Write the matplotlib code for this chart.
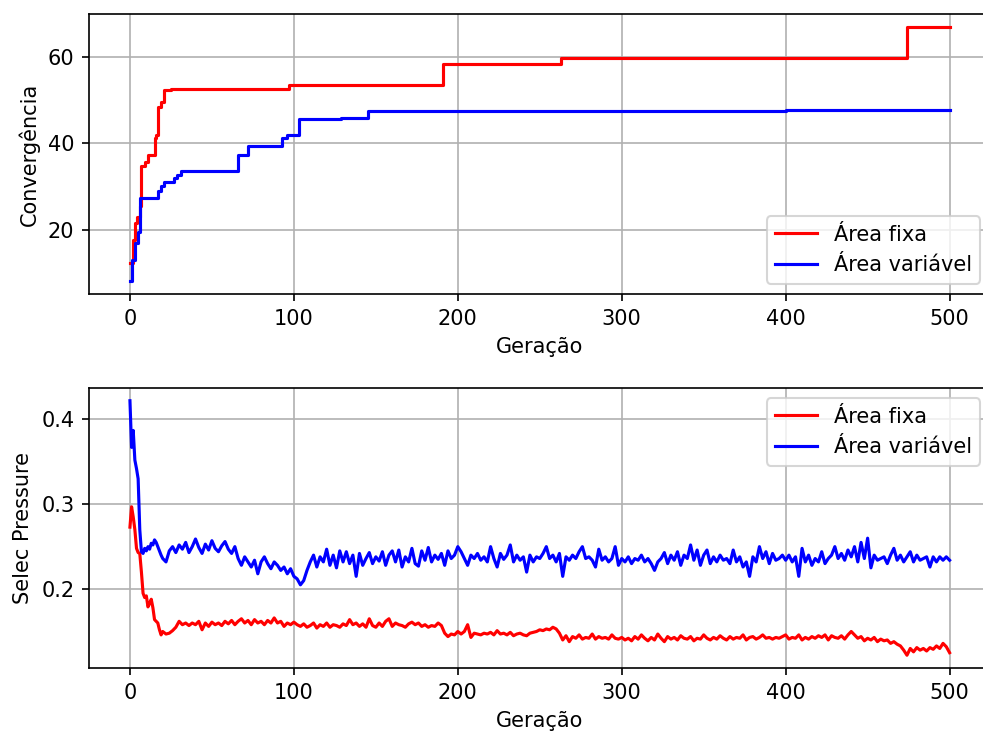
import numpy as np
import matplotlib
matplotlib.use("Agg")
import matplotlib.pyplot as plt

# convergence: generation where the best value changes, and the new value
red_conv_gen = [0, 2, 3, 4, 6, 7, 9, 11, 15, 16, 17, 19, 21, 25, 97, 191, 263, 474, 500]
red_conv_val = [12.4, 17.7, 21.6, 23.0, 25.4, 34.7, 35.8, 37.2, 41.2, 42.0, 48.5, 49.5, 52.3, 52.6, 53.5, 58.4, 59.7, 67.0, 67.0]
blue_conv_gen = [0, 1, 3, 5, 6, 17, 19, 21, 27, 29, 31, 66, 72, 82, 93, 96, 103, 129, 145, 400, 500]
blue_conv_val = [8.1, 12.9, 17.0, 19.5, 27.4, 28.9, 30.2, 31.0, 32.0, 32.6, 33.7, 37.4, 39.3, 39.5, 41.2, 42.0, 45.6, 45.8, 47.6, 47.8, 47.8]

# selection pressure: every generation for 0-19, then every 2nd generation
sel_gen = list(range(0, 20)) + list(range(20, 501, 2))

red_sel = [
    0.273, 0.297, 0.285, 0.270, 0.248, 0.243, 0.242, 0.220, 0.195, 0.190,
    0.192, 0.179, 0.183, 0.188, 0.178, 0.164, 0.162, 0.160, 0.152, 0.146,
    # 20-100
    0.150, 0.147, 0.148, 0.151, 0.155, 0.162, 0.158, 0.160, 0.157, 0.160,
    0.158, 0.162, 0.152, 0.160, 0.156, 0.161, 0.158, 0.160, 0.157, 0.162,
    0.159, 0.163, 0.158, 0.162, 0.165, 0.160, 0.163, 0.158, 0.164, 0.160,
    0.162, 0.158, 0.163, 0.160, 0.166, 0.160, 0.162, 0.156, 0.160, 0.158,
    0.161,
    # 102-200
    0.158, 0.156, 0.159, 0.155, 0.157, 0.160, 0.154, 0.158, 0.156, 0.160,
    0.155, 0.158, 0.157, 0.155, 0.159, 0.157, 0.164, 0.158, 0.160, 0.156,
    0.159, 0.155, 0.165, 0.157, 0.155, 0.160, 0.156, 0.162, 0.165, 0.156,
    0.160, 0.158, 0.157, 0.155, 0.159, 0.161, 0.158, 0.160, 0.156, 0.158,
    0.155, 0.157, 0.156, 0.160, 0.157, 0.148, 0.144, 0.147, 0.146, 0.150,
    # 202-300
    0.147, 0.150, 0.158, 0.143, 0.148, 0.147, 0.146, 0.148, 0.147, 0.149,
    0.146, 0.151, 0.147, 0.148, 0.146, 0.149, 0.145, 0.147, 0.148, 0.146,
    0.145, 0.148, 0.149, 0.150, 0.152, 0.151, 0.153, 0.152, 0.155, 0.153,
    0.148, 0.140, 0.145, 0.138, 0.144, 0.142, 0.146, 0.141, 0.143, 0.142,
    0.147, 0.141, 0.144, 0.142, 0.143, 0.141, 0.146, 0.142, 0.141, 0.143,
    # 302-400
    0.140, 0.142, 0.139, 0.144, 0.141, 0.146, 0.142, 0.139, 0.143, 0.140,
    0.147, 0.142, 0.138, 0.144, 0.141, 0.143, 0.140, 0.145, 0.142, 0.141,
    0.144, 0.139, 0.142, 0.141, 0.146, 0.142, 0.140, 0.143, 0.141, 0.145,
    0.142, 0.140, 0.144, 0.141, 0.143, 0.142, 0.146, 0.140, 0.143, 0.144,
    0.141, 0.143, 0.146, 0.142, 0.143, 0.141, 0.143, 0.142, 0.144, 0.146,
    # 402-500
    0.141, 0.143, 0.142, 0.146, 0.140, 0.143, 0.141, 0.144, 0.142, 0.145,
    0.143, 0.146, 0.140, 0.145, 0.143, 0.142, 0.145, 0.141, 0.146, 0.150,
    0.146, 0.142, 0.144, 0.139, 0.142, 0.140, 0.143, 0.138, 0.141, 0.139,
    0.140, 0.136, 0.138, 0.135, 0.133, 0.128, 0.122, 0.130, 0.126, 0.131,
    0.128, 0.130, 0.127, 0.131, 0.129, 0.133, 0.130, 0.136, 0.132, 0.125,
]

blue_sel = [
    0.422, 0.367, 0.387, 0.352, 0.342, 0.330, 0.270, 0.244, 0.242, 0.248,
    0.245, 0.250, 0.247, 0.254, 0.252, 0.258, 0.255, 0.250, 0.245, 0.240,
    # 20-64
    0.236, 0.232, 0.245, 0.250, 0.243, 0.252, 0.247, 0.255, 0.243, 0.250,
    0.259, 0.249, 0.242, 0.253, 0.246, 0.257, 0.248, 0.244, 0.251, 0.256,
    0.247, 0.242, 0.250,
    # 66-100
    0.236, 0.228, 0.238, 0.232, 0.226, 0.234, 0.218, 0.232, 0.238, 0.230,
    0.224, 0.232, 0.228, 0.222, 0.226, 0.218, 0.224, 0.215,
    # 102-200
    0.212, 0.205, 0.210, 0.222, 0.232, 0.240, 0.226, 0.238, 0.232, 0.247,
    0.228, 0.240, 0.225, 0.245, 0.232, 0.244, 0.230, 0.240, 0.215, 0.242,
    0.228, 0.236, 0.243, 0.230, 0.238, 0.233, 0.244, 0.228, 0.240, 0.245,
    0.232, 0.246, 0.226, 0.238, 0.232, 0.248, 0.230, 0.227, 0.245, 0.234,
    0.249, 0.232, 0.240, 0.235, 0.242, 0.228, 0.245, 0.236, 0.240, 0.250,
    # 202-300
    0.244, 0.236, 0.228, 0.240, 0.236, 0.242, 0.234, 0.238, 0.232, 0.250,
    0.236, 0.226, 0.242, 0.235, 0.240, 0.252, 0.232, 0.240, 0.234, 0.238,
    0.220, 0.240, 0.232, 0.238, 0.236, 0.242, 0.250, 0.236, 0.240, 0.232,
    0.242, 0.215, 0.238, 0.234, 0.240, 0.236, 0.244, 0.250, 0.236, 0.238,
    0.234, 0.226, 0.247, 0.234, 0.238, 0.232, 0.236, 0.250, 0.228, 0.236,
    # 302-400
    0.232, 0.238, 0.230, 0.236, 0.234, 0.240, 0.232, 0.236, 0.230, 0.222,
    0.232, 0.236, 0.243, 0.230, 0.240, 0.234, 0.244, 0.228, 0.240, 0.236,
    0.252, 0.234, 0.246, 0.228, 0.240, 0.246, 0.230, 0.238, 0.232, 0.240,
    0.234, 0.236, 0.230, 0.246, 0.232, 0.238, 0.226, 0.232, 0.215, 0.238,
    0.232, 0.250, 0.236, 0.244, 0.230, 0.242, 0.234, 0.236, 0.240, 0.234,
    # 402-500
    0.240, 0.232, 0.238, 0.215, 0.248, 0.232, 0.240, 0.228, 0.236, 0.232,
    0.244, 0.230, 0.236, 0.240, 0.250, 0.236, 0.242, 0.234, 0.246, 0.238,
    0.250, 0.232, 0.255, 0.236, 0.260, 0.225, 0.240, 0.234, 0.236, 0.238,
    0.230, 0.240, 0.248, 0.234, 0.240, 0.232, 0.238, 0.244, 0.232, 0.240,
    0.234, 0.236, 0.238, 0.226, 0.238, 0.232, 0.238, 0.234, 0.238, 0.234,
]

LABELS = ("Área fixa", "Área variável")

fig, (ax1, ax2) = plt.subplots(2, 1, figsize=(983 / 150, 735 / 150), dpi=150)
# the original image is cropped: the right spine falls just outside the canvas
fig.subplots_adjust(left=0.0905, right=1.0077, top=0.981, bottom=0.0912, hspace=0.336)

ax1.plot(red_conv_gen, red_conv_val, color="red", drawstyle="steps-post", label=LABELS[0])
ax1.plot(blue_conv_gen, blue_conv_val, color="blue", drawstyle="steps-post", label=LABELS[1])
ax1.set_xlabel("Geração")
ax1.set_ylabel("Convergência")
ax1.set_xticks([0, 100, 200, 300, 400, 500])
ax1.grid(True)
ax1.legend(loc="lower right")

ax2.plot(sel_gen, red_sel, color="red", label=LABELS[0])
ax2.plot(sel_gen, blue_sel, color="blue", label=LABELS[1])
ax2.set_xlabel("Geração")
ax2.set_ylabel("Selec Pressure")
ax2.set_xticks([0, 100, 200, 300, 400, 500])
ax2.grid(True)
ax2.legend(loc="upper right")

plt.savefig("out.png", dpi=150)
